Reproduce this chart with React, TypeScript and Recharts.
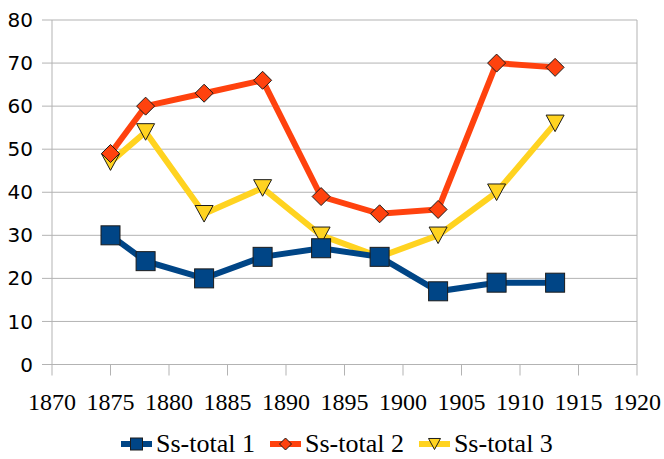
import React from 'react';
import { LineChart, Line, XAxis, YAxis, CartesianGrid, Legend, ReferenceLine } from 'recharts';

const years = [1875, 1878, 1883, 1888, 1893, 1898, 1903, 1908, 1913];
const total1 = [30, 24, 20, 25, 27, 25, 17, 19, 19];
const total2 = [49, 60, 63, 66, 39, 35, 36, 70, 69];
const total3 = [47, 54, 35, 41, 30, 25, 30, 40, 56];
const seriesNames = ['Ss-total 1', 'Ss-total 2', 'Ss-total 3'];
const xTicks = [1870, 1875, 1880, 1885, 1890, 1895, 1900, 1905, 1910, 1915, 1920];
const yTicks = [0, 10, 20, 30, 40, 50, 60, 70, 80];

const data = years.map((y, i) => ({ year: y, s1: total1[i], s2: total2[i], s3: total3[i] }));

const COLORS = ['#004586', '#ff420e', '#ffd320'];
const KINDS = ['square', 'diamond', 'triangle'];
const KEYS = ['s1', 's2', 's3'];
const GRID = '#b3b3b3';
const SERIF = '"Liberation Serif", serif';

function marker(kind: string, cx: number, cy: number, s: number, color: string, key?: any) {
  const h = s / 2;
  if (kind === 'square') {
    return <rect key={key} x={cx - h} y={cy - h} width={s} height={s} fill={color} stroke="#1c1c1c" strokeWidth={1} />;
  }
  if (kind === 'diamond') {
    return (
      <polygon key={key} points={`${cx},${cy - h} ${cx + h},${cy} ${cx},${cy + h} ${cx - h},${cy}`} fill={color} stroke="#1c1c1c" strokeWidth={1} />
    );
  }
  const th = s * 0.92;
  return (
    <polygon key={key} points={`${cx - h},${cy - th / 2} ${cx + h},${cy - th / 2} ${cx},${cy + th / 2}`} fill={color} stroke="#1c1c1c" strokeWidth={1} />
  );
}

const makeDot = (idx: number) => (props: any) => {
  const { cx, cy, index } = props;
  if (cx == null || cy == null) return <g key={`d${idx}-${index}`} />;
  return marker(KINDS[idx], cx, cy, idx === 0 ? 19 : 18, COLORS[idx], `d${idx}-${index}`);
};

const renderLegend = () => (
  <div style={{ display: 'flex', alignItems: 'center', height: 30, paddingLeft: 121, fontFamily: SERIF, fontSize: 26, color: '#000', lineHeight: '30px' }}>
    {seriesNames.map((n, i) => (
      <div key={n} style={{ display: 'flex', alignItems: 'center', marginRight: 15 }}>
        <svg width={31} height={16} style={{ display: 'block' }}>
          <line x1={0} y1={8} x2={31} y2={8} stroke={COLORS[i]} strokeWidth={6} />
          {marker(KINDS[i], 15.5, 8, 12, COLORS[i])}
        </svg>
        <span style={{ marginLeft: 4, whiteSpace: 'nowrap' }}>{n}</span>
      </div>
    ))}
  </div>
);

export default function App() {
  return (
    <div style={{ position: 'absolute', left: 0, top: 0, width: 664, height: 459, background: '#fff' }}>
      <LineChart width={664} height={459} data={data} margin={{ top: 20, right: 27, left: 0, bottom: 0 }}>
        <CartesianGrid vertical={false} stroke={GRID} strokeWidth={1} />
        <XAxis
          dataKey="year"
          type="number"
          domain={[1870, 1920]}
          ticks={xTicks}
          interval={0}
          height={64.5}
          stroke={GRID}
          tickSize={11}
          tickMargin={17}
          tick={{ fill: '#000', fontSize: 24, fontFamily: SERIF }}
        />
        <YAxis
          type="number"
          domain={[0, 80]}
          ticks={yTicks}
          interval={0}
          width={52}
          stroke={GRID}
          tickSize={10}
          tickMargin={9}
          tick={{ fill: '#000', fontSize: 20, fontFamily: '"DejaVu Sans", sans-serif' }}
        />
        <ReferenceLine x={1920} stroke={GRID} strokeWidth={1} />
        <Legend verticalAlign="bottom" content={renderLegend} wrapperStyle={{ left: 0, width: 664 }} />
        {[2, 1, 0].map((i) => (
          <Line
            key={KEYS[i]}
            type="linear"
            dataKey={KEYS[i]}
            name={seriesNames[i]}
            stroke={COLORS[i]}
            strokeWidth={6}
            dot={makeDot(i)}
            activeDot={false}
            isAnimationActive={false}
            legendType="none"
          />
        ))}
      </LineChart>
    </div>
  );
}
